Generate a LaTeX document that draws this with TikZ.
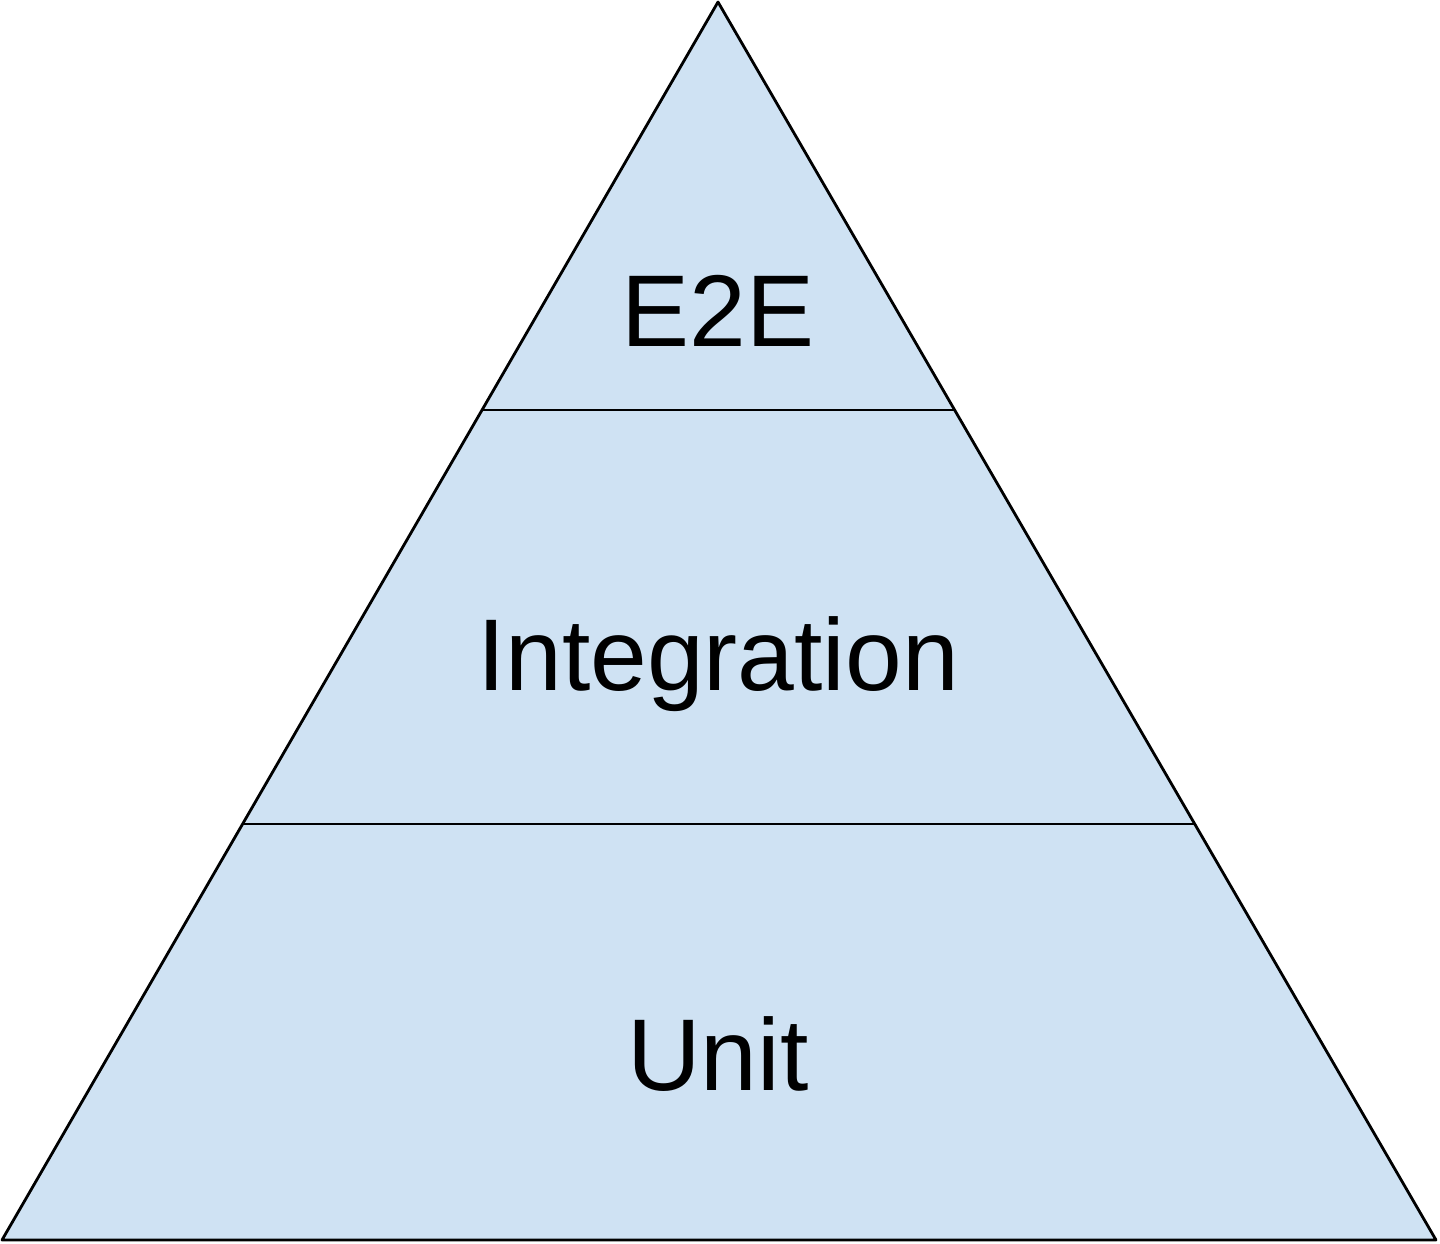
\documentclass[tikz,border=0pt]{standalone}
\usepackage{fontspec}
\setmainfont{Liberation Sans}
\usetikzlibrary{calc}
\definecolor{tierfill}{HTML}{CFE2F3}
\begin{document}
\begin{tikzpicture}[x=0.5pt,y=-0.5pt,
  tier/.style={fill=tierfill,draw=black,line width=1.4pt,line join=round},
  divider/.style={draw=black,line width=1.4pt},
  label/.style={font=\fontsize{51}{60}\selectfont,text=black,inner sep=0pt,anchor=base}]
\useasboundingbox (0,0) rectangle (1440,1243);
\coordinate (apex) at (718,2);
\coordinate (bl) at (2,1240);
\coordinate (br) at (1436,1240);
\coordinate (l1) at ($(apex)!0.3295!(bl)$);
\coordinate (r1) at ($(apex)!0.3295!(br)$);
\coordinate (l2) at ($(apex)!0.6640!(bl)$);
\coordinate (r2) at ($(apex)!0.6640!(br)$);
\draw[tier] (apex) -- (bl) -- (br) -- cycle;
\draw[divider] (l1) -- (r1);
\draw[divider] (l2) -- (r2);
\node[label] (e2e) at (718,346) {E2E};
\node[label] (integ) at (718,690) {Integration};
\node[label] (unit) at (718,1090) {Unit};
\end{tikzpicture}
\end{document}
